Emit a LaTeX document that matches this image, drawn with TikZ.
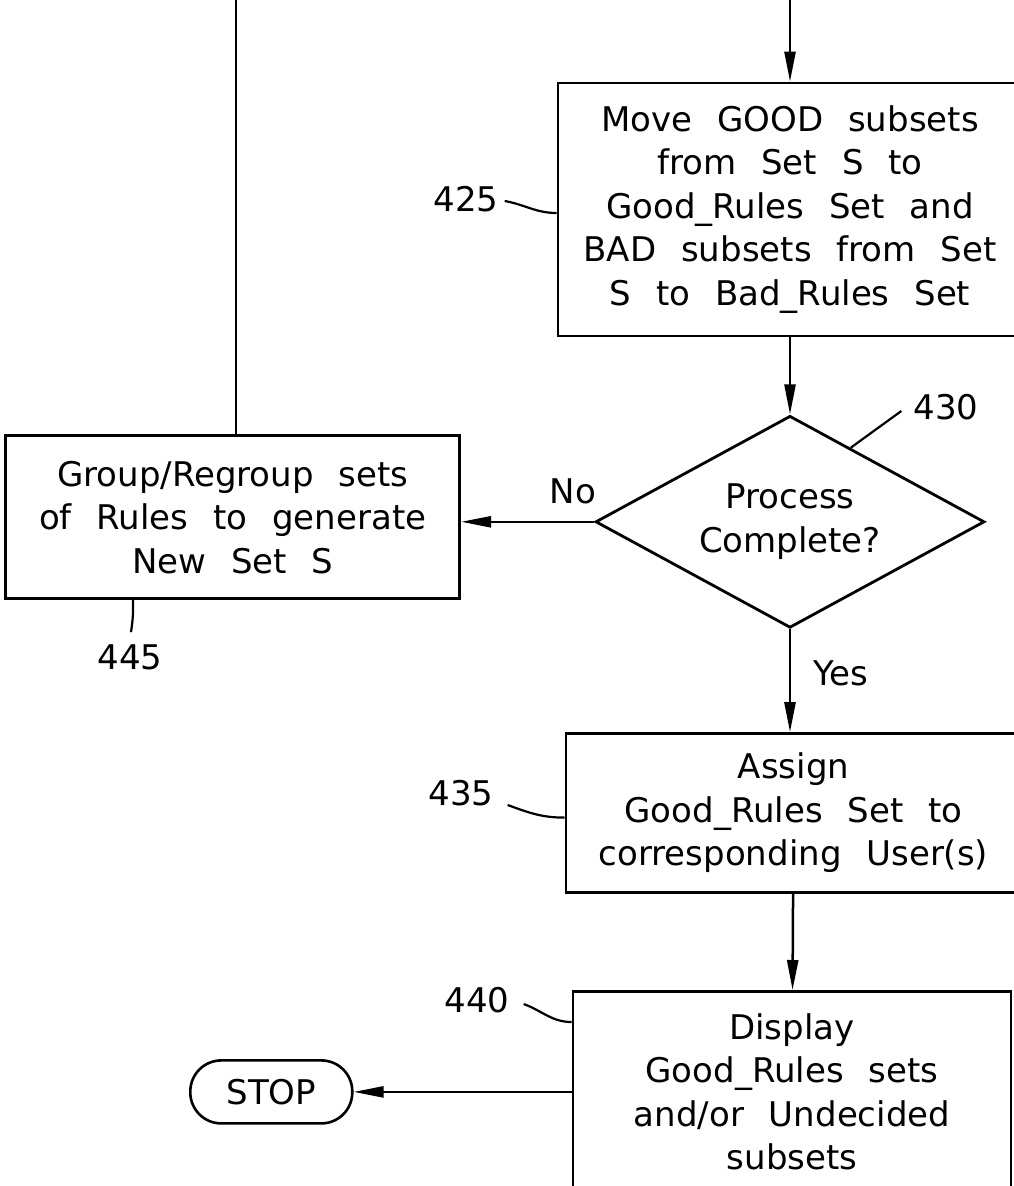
\documentclass[tikz,border=0pt]{standalone}
\usepackage{fontspec}
\setmainfont{DejaVu Sans}[WordSpace=2.3]
\usetikzlibrary{shapes.geometric, arrows.meta, positioning, calc}

\begin{document}
\begin{tikzpicture}[x=1pt, y=-1pt]
    % Define styles for blocks and arrows
    \tikzstyle{rectblock} = [rectangle, draw, line width=2.8pt, align=center, inner sep=0pt, font=\fontsize{34}{43.5}\selectfont]
    \tikzstyle{decisionblock} = [diamond, draw, line width=2.8pt, align=center, aspect=1.83, inner sep=0pt, minimum width=389pt, minimum height=212pt, font=\fontsize{34}{43.5}\selectfont]
    \tikzstyle{stopblock} = [rectangle, rounded corners=31pt, draw, line width=2.6pt, minimum width=162pt, minimum height=63pt, font=\fontsize{34}{40}\selectfont]
    \tikzstyle{refnum} = [inner sep=2pt, font=\fontsize{34}{40}\selectfont]
    \tikzstyle{arrow} = [line width=2.5pt, -{Triangle[length=30pt, width=11pt]}]
    \tikzstyle{plainline} = [line width=2.5pt]
    \tikzstyle{leader} = [line width=2.2pt]

    \useasboundingbox (0,0) rectangle (1014,1186);
    \clip (0,0) rectangle (1014,1186);

    % Nodes
    \node (move) [rectblock, minimum width=464pt, minimum height=253pt] at (790,209.5) {Move GOOD subsets\\ from Set S to\\ Good\_Rules Set and\\ BAD subsets from Set\\ S to Bad\_Rules Set};
    \node (decide) [decisionblock, below=77pt of move] {Process\\ Complete?};
    \node (regroup) [rectblock, minimum width=454pt, minimum height=163pt, left=133pt of decide, yshift=4.5pt] {Group/Regroup sets\\ of Rules to generate\\ New Set S};
    \node (assign) [rectblock, minimum width=455pt, minimum height=159pt, below=103pt of decide, xshift=3.5pt] {Assign\\ Good\_Rules Set to\\ corresponding User(s)};
    \node (display) [rectblock, minimum width=438pt, minimum height=201pt, below=96pt of assign, xshift=-1.5pt] {Display\\ Good\_Rules sets\\ and/or Undecided\\ subsets};
    \node (stop) [stopblock, left=218pt of display] {STOP};

    % Reference numerals
    \node (l425) [refnum] at (466,199) {425};
    \node (l430) [refnum] at (946,407) {430};
    \node (l445) [refnum] at (130,657) {445};
    \node (l435) [refnum] at (461,793) {435};
    \node (l440) [refnum] at (477,1000) {440};

    \coordinate (inleft) at (236,0);
    \coordinate (inright) at (790,0);

    % Arrows
    \draw [plainline] (inleft) -- (inleft |- regroup.north);
    \draw [arrow] (inright) -- (move);
    \draw [arrow] (move) -- (decide);
    \draw [arrow] (decide.west) -- (decide.west -| regroup.east) node[refnum, pos=0.16, above=15pt] {No};
    \draw [arrow] (decide) -- (decide.south |- assign.north) node[refnum, pos=0.43, right=20pt] {Yes};
    \draw [arrow] (assign) -- (display);
    \draw [arrow] (display) -- (stop);

    % Leaders
    \draw [leader] ([xshift=4pt, yshift=-2pt]l425.east) to[out=-10, in=180] ([yshift=-3.5pt]move.west);
    \draw [leader] ([xshift=-10pt, yshift=-4pt]l430.west) -- ($(decide.north)!0.31!(decide.east)$);
    \draw [leader] ([xshift=1pt, yshift=10pt]l445.north) to[bend right=5] ($(l445.north |- regroup.south)+(3pt,0)$);
    \draw [leader] ([xshift=12pt, yshift=-12pt]l435.east) to[out=-20, in=180] ([yshift=-4.5pt]assign.west);
    \draw [leader] ([xshift=12pt, yshift=-4pt]l440.east) to[out=-20, in=180] ([yshift=-32pt]display.north west);
\end{tikzpicture}
\end{document}
